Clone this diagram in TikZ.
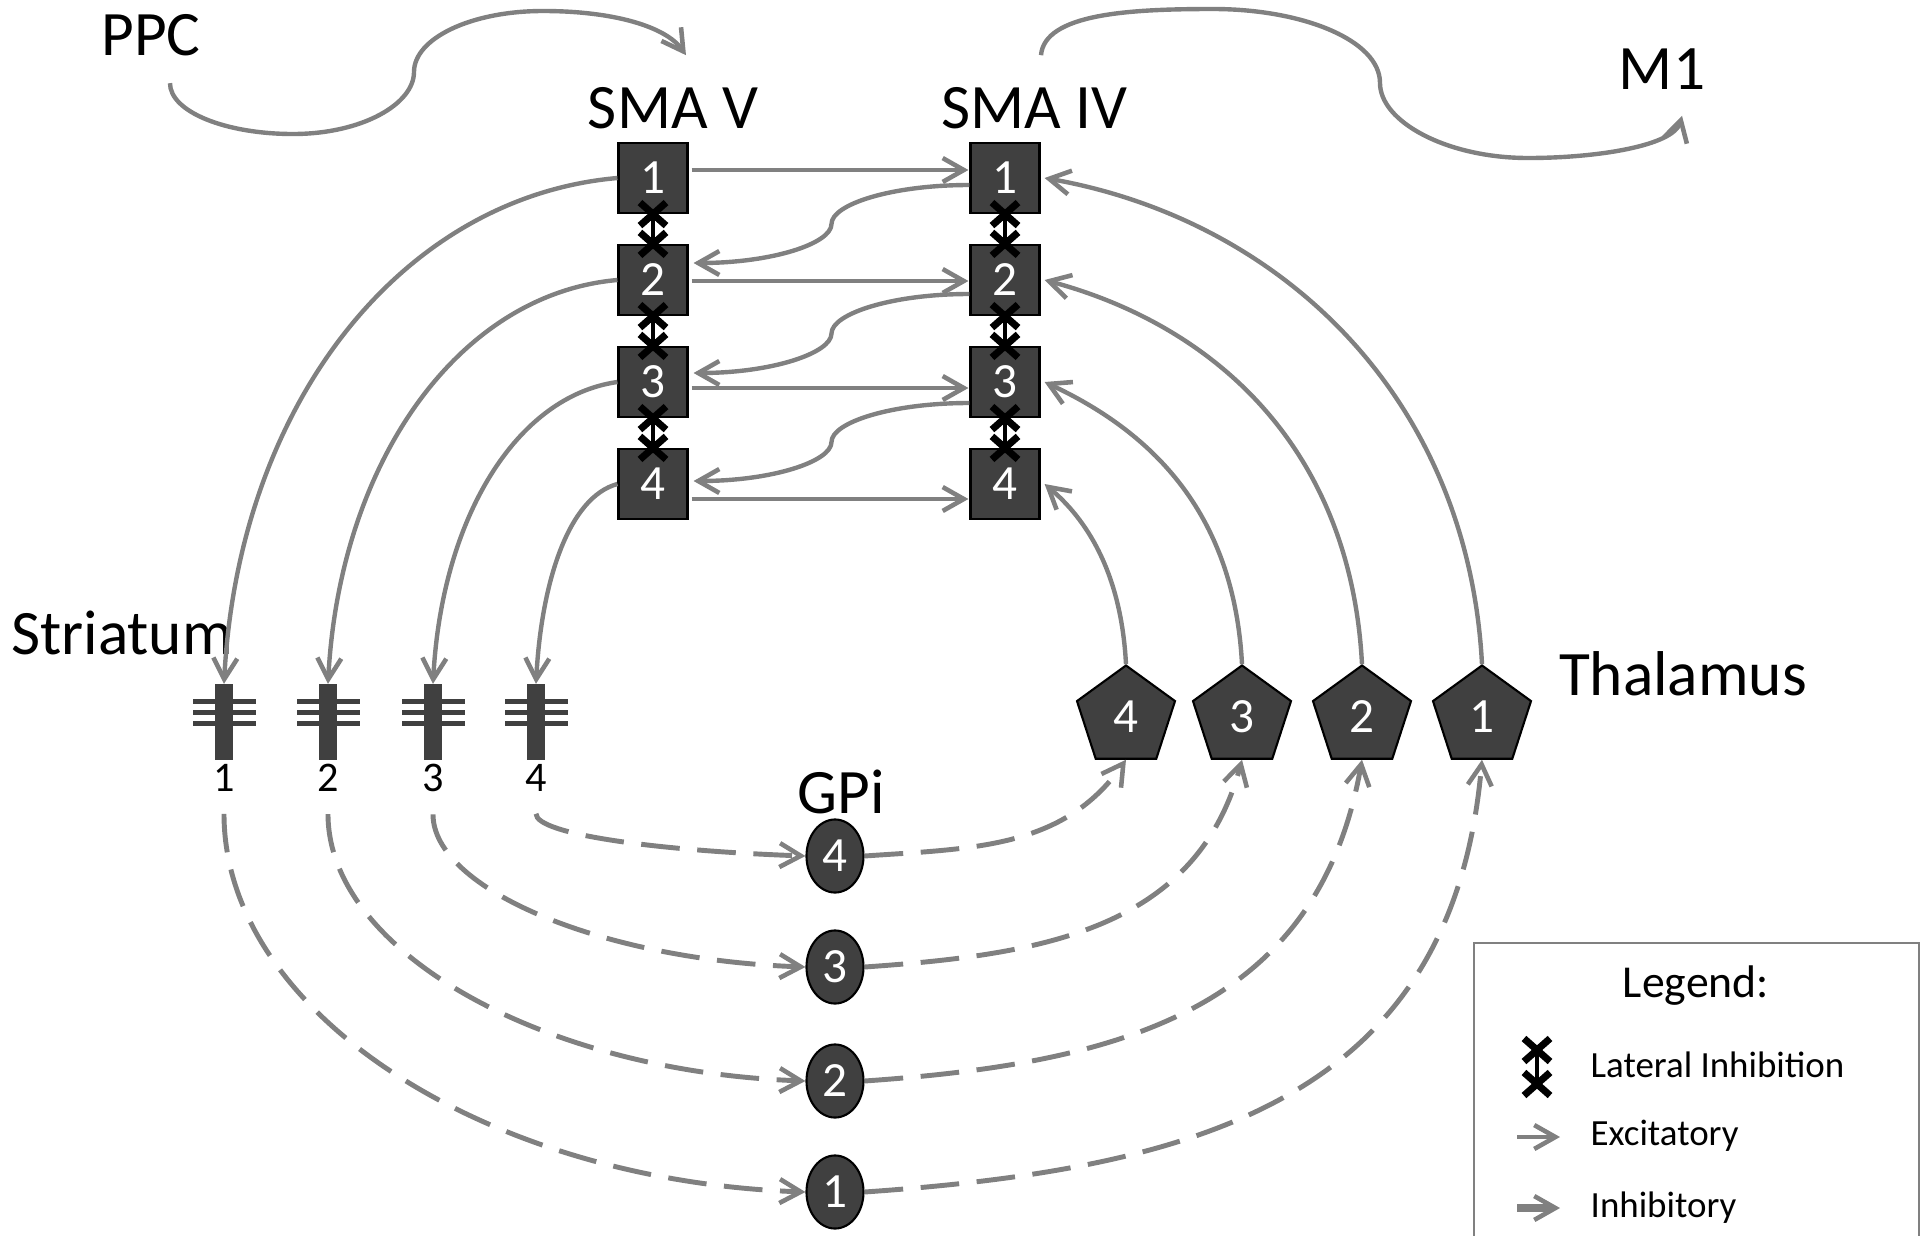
\documentclass[tikz,border=0pt]{standalone}
\usepackage{fontspec}
\setmainfont{Carlito}
\usepackage{tikz}
\usetikzlibrary{shapes.geometric, shapes.misc, arrows.meta, positioning, calc}

\definecolor{cellgray}{RGB}{64,64,64}
\definecolor{wiregray}{RGB}{128,128,128}

\begin{document}
\begin{tikzpicture}[x=0.01cm, y=0.01cm,
        smabox/.style={rectangle, draw=black, fill=cellgray, line width=0.6pt, minimum width=0.69cm, minimum height=0.7cm, inner sep=0pt, text=white, font=\fontsize{14}{14}\selectfont},
        gpinode/.style={ellipse, draw=black, fill=cellgray, line width=0.6pt, minimum width=0.57cm, minimum height=0.73cm, inner sep=0pt, text=white, font=\fontsize{14}{14}\selectfont},
        thalnode/.style={regular polygon, regular polygon sides=5, draw=black, fill=cellgray, line width=0.6pt, minimum size=1.03cm, inner sep=0pt, text=white, font=\fontsize{14}{14}\selectfont},
        stem/.style={rectangle, fill=cellgray, minimum width=0.17cm, minimum height=0.75cm, inner sep=0pt},
        spine/.style={cellgray, line width=0.05cm},
        region/.style={anchor=base, inner sep=2pt, font=\fontsize{18}{18}\selectfont},
        stnum/.style={inner sep=0pt, font=\fontsize{12}{12}\selectfont},
        legtext/.style={anchor=base west, inner sep=0pt, font=\fontsize{10.5}{10.5}\selectfont},
        exc/.style={-{Straight Barb[length=6pt, width=6.8pt, line width=1.3pt]}, wiregray, line width=1.25pt},
        inh/.style={exc, line width=1.4pt, dash pattern=on 11pt off 5pt},
        lat/.style={black, line width=1.2pt},
        xmark/.style={cross out, draw=black, line width=2pt, minimum width=0.19cm, minimum height=0.16cm, inner sep=0pt}
    ]
        \useasboundingbox (0,0) rectangle (1929,-1236);

        % region labels
        \node[region] (ppc) at (151,-55) {PPC};
        \node[region] (smav) at (673,-128) {SMA V};
        \node[region] (smaiv) at (1034,-128) {SMA IV};
        \node[region] (mone) at (1662,-89) {M1};
        \node[region] (striatum) at (122,-654) {Striatum};
        \node[region] (thalamus) at (1683,-695) {Thalamus};
        \node[region] (gpi) at (841,-813) {GPi};

        % SMA columns
        \foreach \i/\y in {1/178, 2/280, 3/382, 4/484} {
            \node[smabox] (v\i) at (653,-\y) {\i};
            \node[smabox] (iv\i) at (1005,-\y) {\i};
        }

        % striatum cells
        \foreach \i/\x in {1/224, 2/328, 3/433, 4/536} {
            \node[stem] (s\i) at (\x,-722) {};
            \foreach \d in {21, 10, -1}
                \draw[spine] ($(s\i)+(-31,\d)$) -- ($(s\i)+(32,\d)$);
            \node[stnum, below=0.03cm of s\i] (sn\i) {\i};
        }

        % GPi and thalamus
        \foreach \i/\y in {4/856, 3/967, 2/1081, 1/1192}
            \node[gpinode] (g\i) at (835,-\y) {\i};
        \foreach \i/\x in {4/1126, 3/1242, 2/1362, 1/1482}
            \node[thalnode] (t\i) at (\x,-717) {\i};

        % lateral inhibition
        \foreach \i/\j in {1/2, 2/3, 3/4} {
            \draw[lat] (v\i.south) -- (v\j.north) node[xmark, pos=0] {} node[xmark, pos=1] {};
            \draw[lat] (iv\i.south) -- (iv\j.north) node[xmark, pos=0] {} node[xmark, pos=1] {};
        }

        % SMA V -> SMA IV
        \foreach \i/\o in {1/8, 2/-1, 3/-6, 4/-15}
            \draw[exc] ($(v\i.east)+(3,\o)$) -- ($(iv\i.west)+(-1,\o)$);

        % SMA IV -> SMA V
        \foreach \i/\j/\a/\b in {1/2/-7/17, 2/3/-14/9, 3/4/-21/3} {
            \coordinate (bs\i) at ($(iv\i.west)+(0,\a)$);
            \coordinate (be\i) at ($(v\j.east)+(5,\b)$);
            \draw[exc] (bs\i) to[out=180, in=90, out looseness=1.4, in looseness=0.35] ($(bs\i)!0.5!(be\i)$)
                to[out=-90, in=0, out looseness=0.35, in looseness=1.4] (be\i);
        }

        % SMA V -> striatum
        \foreach \i/\o/\lo/\li in {1/185/0.86/1.12, 2/185/0.82/1.14, 3/188/0.74/1.2, 4/195/0.6/1.2}
            \draw[exc] (v\i.west) to[out=\o, in=87, out looseness=\lo, in looseness=\li] (s\i.north);

        % thalamus -> SMA IV
        \foreach \i/\e/\lo/\li in {1/-10/1.05/0.94, 2/-15/1.1/0.92, 3/-25/1.15/0.85, 4/-40/1.2/0.7}
            \draw[exc] (t\i.corner 1) to[out=93, in=\e, out looseness=\lo, in looseness=\li] ($(iv\i.east)+(4,0)$);

        % striatum -> GPi -> thalamus
        \foreach \i/\lo/\li in {1/0.8/1.16, 2/0.73/1.2, 3/0.6/1.27, 4/0.4/1.3}
            \draw[inh, shorten <=0.22cm] (sn\i.south) to[out=-90, in=178, out looseness=\lo, in looseness=\li] (g\i.west);
        \foreach \i/\e/\l in {1/-95/1.15, 2/-100/1.1, 3/-105/1.05, 4/-125/1}
            \draw[inh] (g\i.east) to[out=4, in=\e, looseness=\l] (t\i.side 3);

        % cortical loops
        \draw[exc] ($(ppc.south)+(19,-20)$) to[out=-90, in=180, out looseness=0.55, in looseness=1.3] (293,-134)
            to[out=0, in=-90, out looseness=1.3, in looseness=0.6] (414,-72)
            to[out=90, in=180, out looseness=0.6, in looseness=1.3] (543,-11)
            to[out=0, in=125, out looseness=1.2, in looseness=0.6] ($(smav.north)+(13,24)$);
        \draw[exc] ($(smaiv.north)+(7,24)$) to[out=85, in=180, out looseness=0.6, in looseness=1.2] (1213,-9)
            to[out=0, in=90, out looseness=1.25, in looseness=0.6] (1380,-83)
            to[out=-90, in=180, out looseness=0.6, in looseness=1.25] (1528,-158)
            to[out=0, in=-105, out looseness=1.1, in looseness=0.5] ($(mone.south)+(20,-19)$);

        % legend
        \draw[wiregray, line width=0.6pt] (1474,-943) rectangle (1919,-1250);
        \node[anchor=base, inner sep=0pt, font=\fontsize{13}{13}\selectfont] (legtitle) at (1696,-997) {Legend:};
        \node[legtext] (leglat) at (1590,-1077) {Lateral Inhibition};
        \node[legtext] (legexc) at (1590,-1145) {Excitatory};
        \node[legtext] (leginh) at (1590,-1217) {Inhibitory};
        \coordinate (lat1) at (1537,-1050);
        \coordinate (lat2) at (1537,-1084);
        \draw[lat] (lat1) -- (lat2) node[xmark, pos=0] {} node[xmark, pos=1] {};
        \coordinate (exc1) at (1517,-1137);
        \coordinate (exc2) at (1560,-1137);
        \draw[exc] (exc1) -- (exc2);
        \coordinate (inh1) at (1517,-1208);
        \coordinate (inh2) at (1560,-1208);
        \draw[inh, line width=2pt] (inh1) -- (inh2);
\end{tikzpicture}
\end{document}
